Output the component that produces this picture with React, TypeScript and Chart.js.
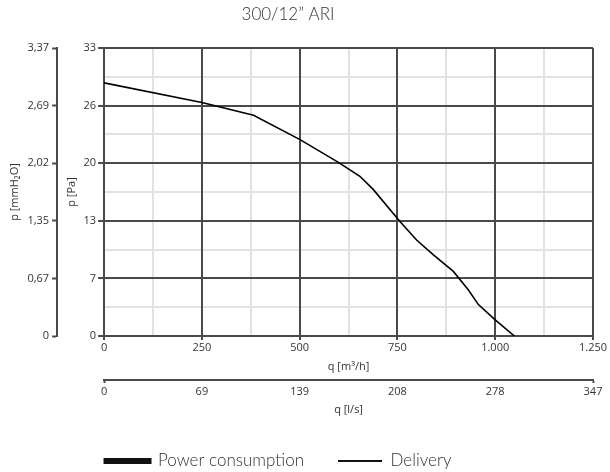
import React, { useEffect, useRef } from 'react';
import { Chart, registerables } from 'chart.js';

Chart.register(...registerables);

// ---- data ----
const chartTitle = '300/12\u201D ARI';
const seriesLabels = ['Power consumption', 'Delivery'];
const deliveryFlowM3h = [0, 250, 382, 501, 599, 654, 688, 757, 799, 842, 893, 931, 957, 1000, 1049];
const deliveryPressurePa = [29.0, 26.75, 25.3, 22.5, 19.9, 18.3, 16.8, 13.1, 11.0, 9.3, 7.4, 5.3, 3.6, 1.85, 0];
const powerConsumption: { x: number; y: number }[] = [];

const paTickValues = [0, 6.6, 13.2, 19.8, 26.4, 33];
const paTickLabels = ['0', '7', '13', '20', '26', '33'];
const mmTickLabels = ['0', '0,67', '1,35', '2,02', '2,69', '3,37'];
const m3hTickValues = [0, 250, 500, 750, 1000, 1250];
const m3hTickLabels = ['0', '250', '500', '750', '1.000', '1.250'];
const lsTickLabels = ['0', '69', '139', '208', '278', '347'];

const axisTitles = {
  pa: 'p [Pa]',
  mm: 'p [mmH\u2082O]',
  m3h: 'q [m\u00B3/h]',
  ls: 'q [l/s]',
};

// ---- styles ----
const MAJOR = '#4a4a4a';
const MINOR = '#e2e2e2';
const TEXT = '#333333';
const TICK_FONT = { family: "'Open Sans', sans-serif", size: 11 };
const BIG_FONT = { family: "Lato, 'Open Sans', sans-serif", size: 17, weight: 300 as any };

const withMinor = (vals: number[]) => {
  const out: number[] = [];
  vals.forEach((v, i) => {
    out.push(v);
    if (i < vals.length - 1) out.push((v + vals[i + 1]) / 2);
  });
  return out;
};

const setTicks = (vals: number[]) => (scale: any) => {
  scale.ticks = vals.map((v) => ({ value: v }));
};

const shiftBlocks = {
  id: 'shiftBlocks',
  afterLayout(chart: any) {
    const t = chart.titleBlock;
    if (t) {
      t.left -= 8.5;
      t.right -= 8.5;
    }
    const l = chart.legend;
    if (l) {
      l.left -= 18;
      l.right -= 18;
    }
  },
};

export default function App() {
  const ref = useRef<HTMLCanvasElement | null>(null);

  useEffect(() => {
    if (!ref.current) return;
    const qMin = m3hTickValues[0];
    const qMax = m3hTickValues[m3hTickValues.length - 1];
    const pMin = paTickValues[0];
    const pMax = paTickValues[paTickValues.length - 1];

    const chart = new Chart(ref.current, {
      type: 'line',
      data: {
        datasets: [
          {
            label: seriesLabels[0],
            data: powerConsumption,
            borderColor: '#111',
            backgroundColor: '#111',
            borderWidth: 5,
            pointRadius: 0,
            xAxisID: 'x',
            yAxisID: 'y',
          },
          {
            label: seriesLabels[1],
            data: deliveryFlowM3h.map((q, i) => ({ x: q, y: deliveryPressurePa[i] })),
            borderColor: '#000',
            backgroundColor: '#000',
            borderWidth: 1.6,
            pointRadius: 0,
            tension: 0,
            fill: false,
            xAxisID: 'x',
            yAxisID: 'y',
          },
        ],
      },
      options: {
        animation: false,
        responsive: false,
        events: [],
        layout: { padding: { left: 0, right: 17, top: 0, bottom: 0 } },
        plugins: {
          tooltip: { enabled: false },
          title: {
            display: true,
            text: chartTitle,
            color: TEXT,
            font: { ...BIG_FONT, lineHeight: 1.2 },
            padding: { top: 4.8, bottom: 22.8 },
          },
          legend: {
            display: true,
            position: 'bottom',
            maxHeight: 53.5,
            labels: {
              color: TEXT,
              font: BIG_FONT,
              boxWidth: 44,
              boxHeight: 2,
              padding: 34,
              generateLabels: () => [
                { text: seriesLabels[0], fillStyle: '#111', strokeStyle: '#111', lineWidth: 4, hidden: false, datasetIndex: 0, fontColor: TEXT },
                { text: seriesLabels[1], fillStyle: '#111', strokeStyle: '#111', lineWidth: 0, hidden: false, datasetIndex: 1, fontColor: TEXT },
              ],
            },
          },
        },
        scales: {
          xMinor: {
            type: 'linear',
            position: 'bottom',
            min: qMin,
            max: qMax,
            weight: -1,
            afterBuildTicks: setTicks(withMinor(m3hTickValues)),
            ticks: { display: false },
            grid: { color: MINOR, lineWidth: 2, drawTicks: false, z: -2 },
            border: { display: false },
          },
          yMinor: {
            type: 'linear',
            position: 'left',
            min: pMin,
            max: pMax,
            weight: -1,
            afterBuildTicks: setTicks(withMinor(paTickValues)),
            ticks: { display: false },
            grid: { color: MINOR, lineWidth: 2, drawTicks: false, z: -2 },
            border: { display: false },
          },
          x: {
            type: 'linear',
            position: 'bottom',
            min: qMin,
            max: qMax,
            weight: 0,
            afterBuildTicks: setTicks(m3hTickValues),
            ticks: {
              autoSkip: false,
              maxRotation: 0,
              padding: 1,
              color: TEXT,
              font: TICK_FONT,
              callback: (_v: any, i: number) => m3hTickLabels[i] ?? '',
            },
            grid: { color: MAJOR, lineWidth: 2, tickLength: 4, tickWidth: 2, tickColor: MAJOR, z: -1 },
            border: { color: MAJOR, width: 2 },
            title: {
              display: true,
              text: axisTitles.m3h,
              color: TEXT,
              font: TICK_FONT,
              padding: { top: 5.2, bottom: 6.4 },
            },
          },
          x2: {
            type: 'linear',
            position: 'bottom',
            min: qMin,
            max: qMax,
            weight: 1,
            afterBuildTicks: setTicks(m3hTickValues),
            ticks: {
              autoSkip: false,
              maxRotation: 0,
              padding: 2,
              color: TEXT,
              font: TICK_FONT,
              callback: (_v: any, i: number) => lsTickLabels[i] ?? '',
            },
            grid: {
              drawOnChartArea: false,
              tickLength: 3,
              tickWidth: 2,
              tickColor: (c: any) => (c.index === 0 || c.index === m3hTickValues.length - 1 ? MAJOR : 'rgba(0,0,0,0)'),
            },
            border: { color: MAJOR, width: 2 },
            title: {
              display: true,
              text: axisTitles.ls,
              color: TEXT,
              font: TICK_FONT,
              padding: { top: 3.2, bottom: 1.9 },
            },
          },
          y: {
            type: 'linear',
            position: 'left',
            min: pMin,
            max: pMax,
            weight: 0,
            afterBuildTicks: setTicks(paTickValues),
            ticks: {
              padding: 2,
              color: TEXT,
              font: TICK_FONT,
              callback: (_v: any, i: number) => paTickLabels[i] ?? '',
            },
            grid: { color: MAJOR, lineWidth: 2, tickLength: 6, tickWidth: 2, tickColor: MAJOR, z: -1 },
            border: { color: MAJOR, width: 2 },
            title: {
              display: true,
              text: axisTitles.pa,
              color: TEXT,
              font: TICK_FONT,
              padding: { top: 8.4, bottom: 2.8 },
            },
          },
          y2: {
            type: 'linear',
            position: 'left',
            min: pMin,
            max: pMax,
            weight: 1,
            afterBuildTicks: setTicks(paTickValues),
            ticks: {
              padding: 3,
              color: TEXT,
              font: TICK_FONT,
              callback: (_v: any, i: number) => mmTickLabels[i] ?? '',
            },
            grid: { drawOnChartArea: false, tickLength: 5, tickWidth: 2, tickColor: MAJOR },
            border: { color: MAJOR, width: 2 },
            title: {
              display: true,
              text: axisTitles.mm,
              color: TEXT,
              font: TICK_FONT,
              padding: { top: 8.4, bottom: 2.8 },
            },
          },
        },
      } as any,
      plugins: [shiftBlocks],
    });
    return () => chart.destroy();
  }, []);

  return (
    <div style={{ position: 'absolute', left: 0, top: 0, width: 610, height: 472, background: '#fff' }}>
      <canvas ref={ref} width={610} height={472} style={{ width: 610, height: 472, display: 'block' }} />
    </div>
  );
}
